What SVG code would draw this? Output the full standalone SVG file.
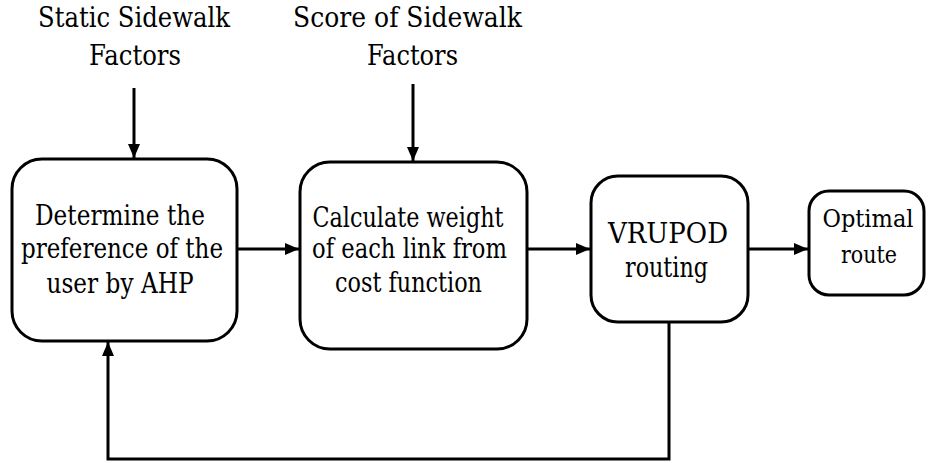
<svg xmlns="http://www.w3.org/2000/svg" width="928" height="463" viewBox="0 0 928 463">
<defs>
<marker id="ah" viewBox="0 0 14 12" refX="14" refY="6" markerWidth="14" markerHeight="12" markerUnits="userSpaceOnUse" orient="auto">
<path d="M0,0 L14,6 L0,12 Z" fill="#000"/>
</marker>
</defs>
<style>
.box{fill:#fff;stroke:#000;stroke-width:3}
.t{font-family:"DejaVu Serif","Liberation Serif","Times New Roman",serif;font-size:27px;fill:#000;text-anchor:middle}
.s{font-size:24px}
.c{fill:none;stroke:#000;stroke-width:3}
</style>
<rect width="928" height="463" fill="#fff"/>
<g id="label1"><text class="t" x="134" y="27" textLength="192" lengthAdjust="spacingAndGlyphs">Static Sidewalk</text><text class="t" x="135" y="65" textLength="92" lengthAdjust="spacingAndGlyphs">Factors</text></g>
<g id="label2"><text class="t" x="407.5" y="27" textLength="229" lengthAdjust="spacingAndGlyphs">Score of Sidewalk</text><text class="t" x="412.5" y="65" textLength="91" lengthAdjust="spacingAndGlyphs">Factors</text></g>
<g id="n1"><rect class="box" x="12" y="159" width="225" height="182" rx="30"/>
<text class="t" x="120" y="225" textLength="170" lengthAdjust="spacingAndGlyphs">Determine the</text><text class="t" x="122" y="258" textLength="202" lengthAdjust="spacingAndGlyphs">preference of the</text><text class="t" x="120" y="293" textLength="147" lengthAdjust="spacingAndGlyphs">user by AHP</text></g>
<g id="n2"><rect class="box" x="300" y="162" width="227" height="187" rx="30"/>
<text class="t" x="408" y="227" textLength="191" lengthAdjust="spacingAndGlyphs">Calculate weight</text><text class="t" x="409.5" y="258" textLength="195" lengthAdjust="spacingAndGlyphs">of each link from</text><text class="t" x="408.5" y="292" textLength="147" lengthAdjust="spacingAndGlyphs">cost function</text></g>
<g id="n3"><rect class="box" x="591" y="176" width="157" height="146" rx="27"/>
<text class="t" x="668" y="243" textLength="120" lengthAdjust="spacingAndGlyphs">VRUPOD</text><text class="t" x="666.5" y="277" textLength="83" lengthAdjust="spacingAndGlyphs">routing</text></g>
<g id="n4"><rect class="box" x="809" y="191" width="115" height="104" rx="20"/>
<text class="t s" x="868" y="227" textLength="91" lengthAdjust="spacingAndGlyphs">Optimal</text><text class="t s" x="869" y="263" textLength="56" lengthAdjust="spacingAndGlyphs">route</text></g>
<g id="connectors">
<path class="c" d="M134,88 V158" marker-end="url(#ah)"/>
<path class="c" d="M413,84 V161" marker-end="url(#ah)"/>
<path class="c" d="M237,249 H299" marker-end="url(#ah)"/>
<path class="c" d="M527,249 H590" marker-end="url(#ah)"/>
<path class="c" d="M748,249 H808" marker-end="url(#ah)"/>
<path class="c" d="M669,322 V459 H108 V342" marker-end="url(#ah)"/>
</g>
</svg>
